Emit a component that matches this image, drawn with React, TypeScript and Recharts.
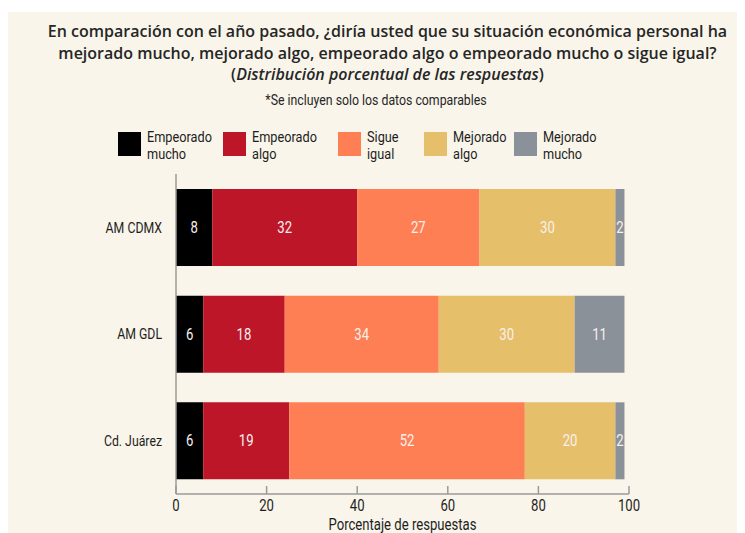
import { BarChart, Bar, XAxis, YAxis, LabelList } from 'recharts'

const categories = ['AM CDMX', 'AM GDL', 'Cd. Juárez']
const empeoradoMucho = [8, 6, 6]
const empeoradoAlgo = [32, 18, 19]
const sigueIgual = [27, 34, 52]
const mejoradoAlgo = [30, 30, 20]
const mejoradoMucho = [2, 11, 2]
const xTicks = [0, 20, 40, 60, 80, 100]

const seriesKeys = ['em', 'ea', 'si', 'ma', 'mm']
const seriesNames = [
  ['Empeorado', 'mucho'],
  ['Empeorado', 'algo'],
  ['Sigue', 'igual'],
  ['Mejorado', 'algo'],
  ['Mejorado', 'mucho'],
]
const seriesColors = ['#000000', '#bd1629', '#ff7f55', '#e6bf6a', '#8b9198']
// legend item left edges (layout only)
const legendLeft = [118, 223, 338, 424, 514]

const data = categories.map((name, i) => ({
  name,
  em: empeoradoMucho[i],
  ea: empeoradoAlgo[i],
  si: sigueIgual[i],
  ma: mejoradoAlgo[i],
  mm: mejoradoMucho[i],
}))

// narrow look: Roboto squeezed horizontally
const narrow = 'Roboto, sans-serif'
const squeeze = 0.82

function XTick({ x = 0, y = 0, payload }: { x?: number; y?: number; payload?: { value: number } }) {
  return (
    <g>
      <line x1={x} x2={x} y1={y - 8} y2={y} stroke="#9a9a9a" strokeWidth={1.5} />
      <text
        transform={`translate(${x} ${y + 17}) scale(${squeeze} 1)`}
        textAnchor="middle"
        fontSize={16}
        fill="#1e1e1e"
        fontFamily={narrow}
      >
        {payload?.value}
      </text>
    </g>
  )
}

function YTick({ x = 0, y = 0, payload }: { x?: number; y?: number; payload?: { value: string } }) {
  return (
    <text
      transform={`translate(${x} ${y}) scale(${squeeze} 1)`}
      textAnchor="end"
      dominantBaseline="central"
      fontSize={15}
      fill="#1e1e1e"
      fontFamily={narrow}
    >
      {payload?.value}
    </text>
  )
}

function SegLabel(props: any) {
  const { x = 0, y = 0, width = 0, height = 0, value } = props
  const cx = Number(x) + Number(width) / 2
  const cy = Number(y) + Number(height) / 2
  return (
    <text
      transform={`translate(${cx} ${cy}) scale(${squeeze} 1)`}
      textAnchor="middle"
      dominantBaseline="central"
      fontSize={16}
      fill="#f8f0ee"
      fontFamily={narrow}
    >
      {value}
    </text>
  )
}

function AxisTitle(props: any) {
  const vb = props.viewBox || {}
  const cx = vb.x + vb.width / 2
  const by = vb.y + vb.height - 3
  return (
    <text
      transform={`translate(${cx} ${by}) scale(${squeeze} 1)`}
      textAnchor="middle"
      fontSize={16}
      fill="#1e1e1e"
      fontFamily={narrow}
    >
      Porcentaje de respuestas
    </text>
  )
}

export default function App() {
  return (
    <div style={{ position: 'relative', width: 745, height: 533, margin: '-8px 0 0 -8px', background: '#fff', overflow: 'hidden' }}>
      <div style={{ position: 'absolute', left: 7, top: 12, right: 5, bottom: 0, background: '#f9f5ea' }} />
      <div
        style={{
          position: 'absolute', left: 30, right: 0, top: 21, textAlign: 'center',
          fontFamily: '"Open Sans", sans-serif', fontWeight: 600, fontSize: 16, lineHeight: '21.5px', color: '#262626',
        }}
      >
        En comparación con el año pasado, ¿diría usted que su situación económica personal ha
        <br />
        mejorado mucho, mejorado algo, empeorado algo o empeorado mucho o sigue igual?
        <br />
        (<i>Distribución porcentual de las respuestas</i>)
      </div>
      <div
        style={{
          position: 'absolute', left: 0, width: 752, top: 91, textAlign: 'center',
          fontFamily: narrow, fontSize: 15, color: '#262626',
          transform: `scaleX(${squeeze})`, transformOrigin: '376px 0',
        }}
      >
        *Se incluyen solo los datos comparables
      </div>

      {seriesNames.map((lines, i) => (
        <div key={i} style={{ position: 'absolute', left: legendLeft[i], top: 132, display: 'flex', alignItems: 'flex-start' }}>
          <span style={{ width: 23, height: 24, background: seriesColors[i], display: 'block' }} />
          <span
            style={{
              fontFamily: narrow, fontSize: 15.5, lineHeight: '17px', color: '#1e1e1e', marginTop: -3, marginLeft: 6,
              whiteSpace: 'nowrap', transform: `scaleX(${squeeze})`, transformOrigin: '0 0', display: 'block',
            }}
          >
            {lines[0]}
            <br />
            {lines[1]}
          </span>
        </div>
      ))}

      <div style={{ position: 'absolute', left: 0, top: 0 }}>
        <BarChart
          width={745}
          height={533}
          data={data}
          layout="vertical"
          margin={{ top: 174, right: 116, bottom: 0, left: 0 }}
          barCategoryGap={15}
        >
          <XAxis
            type="number"
            domain={[0, 100]}
            ticks={xTicks}
            height={39}
            axisLine={{ stroke: '#9a9a9a', strokeWidth: 1.5 }}
            tickLine={false}
            tickSize={0}
            tickMargin={0}
            tick={<XTick />}
            label={<AxisTitle />}
          />
          <YAxis
            type="category"
            dataKey="name"
            width={176}
            axisLine={{ stroke: '#9a9a9a', strokeWidth: 1.5 }}
            tickLine={false}
            tickSize={0}
            tickMargin={14}
            tick={<YTick />}
          />
          {seriesKeys.map((k, i) => (
            <Bar key={k} dataKey={k} stackId="a" fill={seriesColors[i]} isAnimationActive={false}>
              <LabelList dataKey={k} position="center" content={<SegLabel />} />
            </Bar>
          ))}
        </BarChart>
      </div>
    </div>
  )
}
